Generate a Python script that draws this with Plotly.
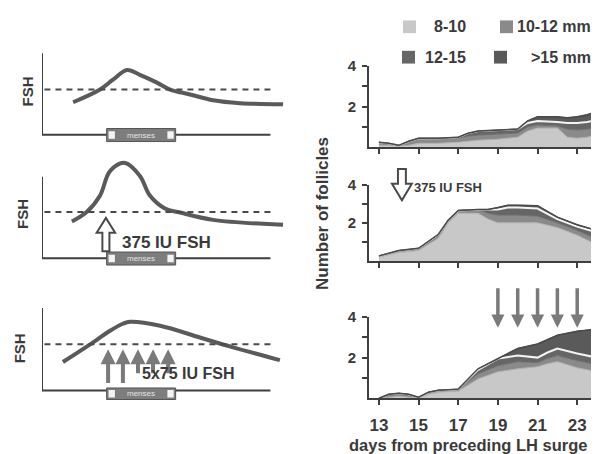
import plotly.graph_objects as go

W, H = 599, 454
OFF_X = 8   # page body margin of the browser
OFF_Y = 8

# ---------------- data: left schematic FSH profiles (arbitrary time 0-100, arbitrary FSH units) -------------
fsh1_t = [12.8, 23.9, 29.2, 35.0, 40.3, 47.3, 52.7, 60.9, 70.4, 81.5, 99.2]
fsh1_v = [3.98, 5.54, 6.75, 7.95, 7.35, 6.39, 5.54, 4.94, 4.22, 3.86, 3.73]
fsh2_t = [12.3, 18.5, 23.9, 28.0, 34.2, 40.3, 44.4, 50.6, 56.8, 70.4, 99.2]
fsh2_v = [4.5, 5.7, 7.7, 10.7, 11.7, 10.1, 7.7, 6.1, 5.6, 4.7, 4.1]
fsh3_t = [8.6, 19.8, 28.0, 33.3, 36.2, 48.6, 65.0, 78.6, 97.9]
fsh3_v = [3.45, 5.6, 7.26, 8.1, 8.33, 7.86, 6.43, 5.24, 3.69]
threshold = [5.54, 5.66, 5.6]
threshold_span = [1.0, 95.0]
menses_span = [26.6, 55.0]
dose_single_t = 26.3
dose_multi_t = [27.2, 33.3, 39.5, 45.7, 51.9]

# ---------------- data: number of follicles per size class ----------------
size_classes = ["8-10", "10-12 mm", "12-15", ">15 mm"]

days1 = [13, 13.5, 14, 14.5, 15, 16, 17, 17.5, 18, 19, 20, 20.5, 21, 22, 22.5, 23, 23.5, 24]
r1_8_10 = [0.1, 0.1, 0.05, 0.1, 0.2, 0.2, 0.25, 0.3, 0.35, 0.4, 0.5, 0.8, 0.95, 0.95, 0.5, 0.45, 0.5, 0.6]
r1_10_12 = [0.15, 0.1, 0.05, 0.2, 0.25, 0.25, 0.2, 0.25, 0.25, 0.25, 0.2, 0.2, 0.15, 0.1, 0.4, 0.4, 0.4, 0.35]
r1_12_15 = [0, 0, 0, 0, 0, 0, 0.05, 0.15, 0.2, 0.2, 0.2, 0.2, 0.2, 0.2, 0.3, 0.35, 0.35, 0.4]
r1_gt15 = [0, 0, 0, 0, 0, 0, 0, 0, 0, 0, 0, 0.1, 0.2, 0.25, 0.25, 0.3, 0.35, 0.4]

days2 = [13, 14, 15, 16, 16.5, 17, 18, 18.5, 19, 19.5, 20, 21, 22, 23, 24]
r2_8_10 = [0.2, 0.45, 0.55, 1.2, 2.0, 2.5, 2.5, 2.2, 2.0, 2.0, 2.0, 2.0, 1.75, 1.35, 0.85]
r2_10_12 = [0.07, 0.1, 0.12, 0.2, 0.15, 0.15, 0.2, 0.3, 0.4, 0.4, 0.4, 0.35, 0.25, 0.25, 0.3]
r2_12_15 = [0, 0, 0, 0, 0, 0, 0, 0.2, 0.3, 0.4, 0.4, 0.4, 0.2, 0.2, 0.35]
r2_gt15 = [0, 0, 0, 0, 0, 0, 0, 0, 0.1, 0.12, 0.12, 0.15, 0.1, 0.1, 0.1]

days3 = [13, 13.5, 14, 14.5, 15, 15.5, 16, 17, 18, 19, 20, 21, 21.5, 22, 23, 24]
r3_8_10 = [0, 0.05, 0.1, 0.05, 0, 0.2, 0.3, 0.35, 0.95, 1.3, 1.45, 1.55, 1.7, 1.8, 1.5, 1.3]
r3_10_12 = [0, 0.1, 0.1, 0.1, 0.05, 0.1, 0.1, 0.1, 0.25, 0.3, 0.35, 0.2, 0.25, 0.3, 0.35, 0.35]
r3_12_15 = [0, 0.05, 0.05, 0.05, 0, 0, 0, 0, 0.2, 0.35, 0.3, 0.25, 0.3, 0.35, 0.35, 0.35]
r3_gt15 = [0, 0, 0, 0, 0, 0, 0, 0, 0.05, 0, 0.35, 0.67, 0.65, 0.65, 1.1, 1.4]

fsh_doses_days = [19, 20, 21, 22, 23]
single_dose_day = 14.16

x_ticks = [13, 15, 17, 19, 21, 23]
y_ticks = [1, 2, 3, 4]
y_ticktext = ["", "2", "", "4"]

# ---------------- style ----------------
FONT = "Liberation Sans, Arial, sans-serif"
INK = "#3a3a3a"
AX = "#3f3f3f"
fills = ["#c8c8c8", "#8a8a8a", "#666666", "#5a5a5a"]
edges = ["#b0b0b0", "#707070", "#f4f4f4", "#4a4a4a"]


def pxx(x):
    return (x - OFF_X) / W


def pxy(y):
    return 1 - (y - OFF_Y) / H


def ptext(x, y, text, size, angle=0, xanchor="center"):
    return dict(xref="paper", yref="paper", x=pxx(x), y=pxy(y), text=text, textangle=angle,
                showarrow=False, xanchor=xanchor, yanchor="middle",
                font=dict(family=FONT, size=size, color=INK))


fig = go.Figure()

# ---------------- left panels ----------------
left_x_dom = [pxx(42), pxx(290)]
left_x_rng = [0, (290 - 42) / 2.43]
left_specs = [  # (axis px, px/unit, dom top px, dom bottom px)
    (128, 8.3, 40, 146),
    (254, 8.3, 150, 272),
    (389, 8.4, 292, 410),
]
curves = [(fsh1_t, fsh1_v), (fsh2_t, fsh2_v), (fsh3_t, fsh3_v)]
shapes = []
annotations = []

for i, ((apx, sc, dt, db), (tt, vv)) in enumerate(zip(left_specs, curves)):
    n = i + 1
    xa = "x" if n == 1 else f"x{n}"
    ya = "y" if n == 1 else f"y{n}"
    fig.add_trace(go.Scatter(x=tt, y=vv, mode="lines", xaxis=xa, yaxis=ya,
                             line=dict(color="#5a5a5a", width=4, shape="spline", smoothing=1.0),
                             showlegend=False, hoverinfo="skip"))
    yr = [(apx - db) / sc, (apx - dt) / sc]
    fig.layout[f"xaxis{'' if n == 1 else n}"] = dict(domain=left_x_dom, range=left_x_rng, visible=False,
                                                    anchor=ya)
    fig.layout[f"yaxis{'' if n == 1 else n}"] = dict(domain=[pxy(db), pxy(dt)], range=yr, visible=False,
                                                    anchor=xa)
    shapes.append(dict(type="line", xref=xa, yref=ya, x0=0, x1=0, y0=0, y1=10,
                       line=dict(color=AX, width=2)))
    shapes.append(dict(type="line", xref=xa, yref=ya, x0=0, x1=94, y0=0, y1=0,
                       line=dict(color=AX, width=2)))
    shapes.append(dict(type="line", xref=xa, yref=ya, x0=threshold_span[0], x1=threshold_span[1],
                       y0=threshold[i], y1=threshold[i], line=dict(color="#4a4a4a", width=2, dash="6px,5px")))
    yb0, yb1 = (-0.85, 0.75) if n < 3 else (-1.1, 0.3)
    shapes.append(dict(type="rect", xref=xa, yref=ya, x0=menses_span[0], x1=menses_span[1], y0=yb0, y1=yb1,
                       fillcolor="#7d7d7d", line=dict(color="#555555", width=1)))
    for x0 in (menses_span[0] + 0.8, menses_span[1] - 3.4):
        shapes.append(dict(type="rect", xref=xa, yref=ya, x0=x0, x1=x0 + 2.6,
                           y0=(yb0 + yb1) / 2 - 0.45, y1=(yb0 + yb1) / 2 + 0.45,
                           fillcolor="#f4f4f4", line=dict(width=0)))
    annotations.append(dict(xref=xa, yref=ya, x=sum(menses_span) / 2, y=(yb0 + yb1) / 2, text="menses",
                            showarrow=False, xanchor="center", yanchor="middle",
                            font=dict(family=FONT, size=8, color="#e6e6e6")))

for (xx, yy) in [(27, 84), (22, 209), (19, 346)]:
    annotations.append(ptext(xx, yy, "<b>FSH</b>", 15, angle=-90))

# panel 2: hollow up arrow (single 375 IU dose)
c = dose_single_t
sw, hw = 1.45, 3.8
y_tail, y_base, y_tip = 0.84, 3.13, 4.94
path = (f"M{c - sw},{y_tail} L{c - sw},{y_base} L{c - hw},{y_base} L{c},{y_tip} "
        f"L{c + hw},{y_base} L{c + sw},{y_base} L{c + sw},{y_tail} Z")
shapes.append(dict(type="path", xref="x2", yref="y2", path=path, fillcolor="white",
                   line=dict(color="#4a4a4a", width=2)))
annotations.append(dict(xref="x2", yref="y2", x=32.0, y=1.95, text="<b>375 IU FSH</b>", showarrow=False,
                        xanchor="left", yanchor="middle", font=dict(family=FONT, size=17, color=INK)))

# panel 3: five small doses
for k, t in enumerate(dose_multi_t):
    tail = 0.71 if k < 2 else 1.9
    annotations.append(dict(xref="x3", yref="y3", x=t, y=5.0, ax=t, ay=tail, axref="x3", ayref="y3",
                            text="", showarrow=True, arrowhead=2, arrowsize=0.75, arrowwidth=4,
                            arrowcolor="#7a7a7a", standoff=0, startstandoff=0))
annotations.append(dict(xref="x3", yref="y3", x=40.3, y=2.0, text="<b>5x75 IU FSH</b>", showarrow=False,
                        xanchor="left", yanchor="middle", font=dict(family=FONT, size=16, color=INK)))

# ---------------- right panels ----------------
RX0, RX1 = 369, 598
right_x_dom = [pxx(RX0), pxx(RX1)]
right_x_rng = [12.5, 12.5 + (RX1 - RX0) / 19.83]
right_y_doms = [(58, 141), (179, 257), (314, 397)]
panels = [
    (days1, [r1_8_10, r1_10_12, r1_12_15, r1_gt15]),
    (days2, [r2_8_10, r2_10_12, r2_12_15, r2_gt15]),
    (days3, [r3_8_10, r3_10_12, r3_12_15, r3_gt15]),
]
for j, ((dd, layers), (dt, db)) in enumerate(zip(panels, right_y_doms)):
    n = j + 4
    for k, (vals, name) in enumerate(zip(layers, size_classes)):
        fig.add_trace(go.Scatter(x=dd, y=vals, name=name, mode="lines", stackgroup=f"g{n}",
                                 xaxis=f"x{n}", yaxis=f"y{n}", fillcolor=fills[k],
                                 line=dict(color=edges[k], width=2 if k == 2 else 1),
                                 showlegend=False, hoverinfo="skip"))
    tot = [sum(v) for v in zip(*layers)]
    fig.add_trace(go.Scatter(x=dd, y=tot, mode="lines", xaxis=f"x{n}", yaxis=f"y{n}",
                             line=dict(color="#4a4a4a", width=1.5), showlegend=False, hoverinfo="skip"))
    fig.layout[f"xaxis{n}"] = dict(domain=right_x_dom, range=right_x_rng, anchor=f"y{n}",
                                   showline=True, linecolor=AX, linewidth=2, showgrid=False, zeroline=False,
                                   ticks="outside", ticklen=5, tickwidth=2, tickcolor=AX,
                                   tickvals=x_ticks, showticklabels=(n == 6), ticklabelstandoff=5,
                                   tickfont=dict(family=FONT, size=17, color=INK, weight="bold"))
    fig.layout[f"yaxis{n}"] = dict(domain=[pxy(db), pxy(dt)], range=[0, 4], anchor=f"x{n}",
                                   showline=True, linecolor=AX, linewidth=2, showgrid=False, zeroline=False,
                                   ticks="outside", ticklen=5, tickwidth=2, tickcolor=AX,
                                   tickvals=y_ticks, ticktext=y_ticktext, ticklabelstandoff=3,
                                   tickfont=dict(family=FONT, size=15, color=INK, weight="bold"))


def r2x(d):
    return pxx(RX0 + (d - right_x_rng[0]) * (RX1 - RX0) / (right_x_rng[1] - right_x_rng[0]))


def r2y(v):
    return pxy(257 - v * (257 - 179) / 4)


c = single_dose_day
sw, hw = 0.2, 0.5
y_tail, y_base, y_tip = 4.82, 4.05, 3.18
path = (f"M{r2x(c - sw)},{r2y(y_tail)} L{r2x(c - sw)},{r2y(y_base)} L{r2x(c - hw)},{r2y(y_base)} "
        f"L{r2x(c)},{r2y(y_tip)} L{r2x(c + hw)},{r2y(y_base)} L{r2x(c + sw)},{r2y(y_base)} "
        f"L{r2x(c + sw)},{r2y(y_tail)} Z")
shapes.append(dict(type="path", xref="paper", yref="paper", path=path, fillcolor="white",
                   line=dict(color="#4a4a4a", width=2)))
annotations.append(dict(xref="x5", yref="y5", x=14.67, y=3.85, text="<b>375 IU FSH</b>", showarrow=False,
                        xanchor="left", yanchor="middle", font=dict(family=FONT, size=13, color=INK)))

# R3: five dose arrows
for d in fsh_doses_days:
    annotations.append(dict(xref="x6", yref="y6", x=d, y=3.47, ax=d, ay=5.49, axref="x6", ayref="y6",
                            text="", showarrow=True, arrowhead=2, arrowsize=0.75, arrowwidth=3.5,
                            arrowcolor="#7a7a7a", standoff=0, startstandoff=0))
annotations.append(dict(xref="x6", yref="y6", x=16.23, y=4.92, text="<b>5x75 IU FSH</b>", showarrow=False,
                        xanchor="left", yanchor="middle", font=dict(family=FONT, size=15, color=INK)))

# axis titles
annotations.append(ptext(322, 209, "<b>Number of follicles</b>", 17, angle=-90))
annotations.append(ptext(468, 445, "<b>days from preceding LH surge</b>", 16.5))

# legend (custom)
leg = [(403, 18, 468), (500, 18, 593), (402, 49, 468), (494, 49, 593)]
for k, ((lx, cy, tx), name) in enumerate(zip(leg, size_classes)):
    shapes.append(dict(type="rect", xref="paper", yref="paper", x0=pxx(lx), x1=pxx(lx + 13),
                       y0=pxy(cy + 6.5), y1=pxy(cy - 6.5), fillcolor=fills[k], line=dict(width=0)))
    annotations.append(ptext(tx, cy, f"<b>{name}</b>", 16, xanchor="right"))

fig.update_layout(width=W, height=H, margin=dict(l=0, r=0, t=0, b=0),
                  paper_bgcolor="white", plot_bgcolor="rgba(0,0,0,0)",
                  shapes=shapes, annotations=annotations, showlegend=False)

fig.write_html("out.html")
